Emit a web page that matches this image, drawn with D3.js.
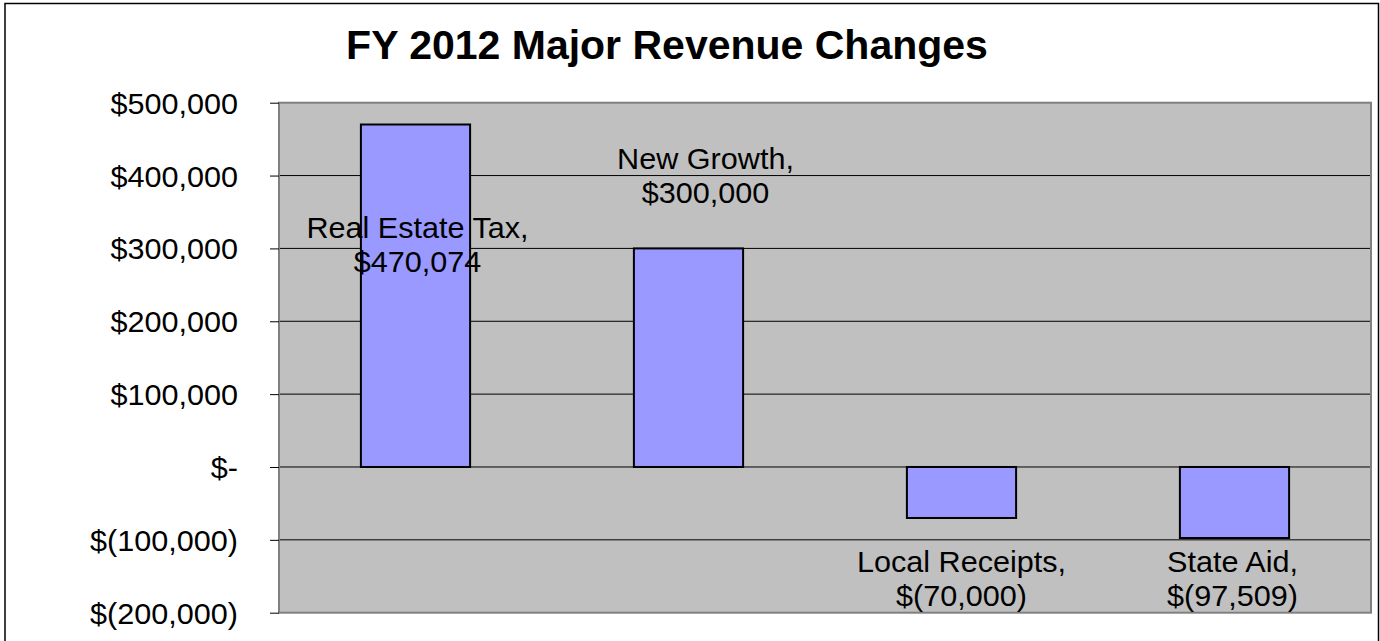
<!DOCTYPE html>
<html>
<head>
<meta charset="utf-8">
<script src="https://cdn.jsdelivr.net/npm/d3@7"></script>
<style>
  html, body { margin: 0; padding: 0; background: #fff; }
  svg { display: block; font-family: "Liberation Sans", Arial, sans-serif; }
</style>
</head>
<body>
<svg id="chart" width="1380" height="641"></svg>
<script>
// ---- data ----
const categories = ["Real Estate Tax", "New Growth", "Local Receipts", "State Aid"];
const values = [470074, 300000, -70000, -97509];
const tickValues = [500000, 400000, 300000, 200000, 100000, 0, -100000, -200000];
const titleText = "FY 2012 Major Revenue Changes";

// ---- layout (label placement relative to bar end, pixels) ----
const labelDx = [2, 17, 0, -2];
const labelDy = [113.5, -79, 54, 34];

const plot = { left: 279, right: 1371, top: 102.7, bottom: 612.7 };
const stretch = 1.02;

const svg = d3.select("#chart");

// outer frame
svg.append("rect")
  .attr("x", 5).attr("y", 3.5)
  .attr("width", 1373.5).attr("height", 700)
  .attr("fill", "#fff").attr("stroke", "#000").attr("stroke-width", 1.5);

// title
svg.append("text")
  .attr("transform", `translate(667,58.5) scale(1.025,1)`)
  .attr("text-anchor", "middle")
  .attr("font-size", 40).attr("font-weight", "bold")
  .attr("fill", "#000")
  .text(titleText);

const x = d3.scaleBand().domain(categories)
  .range([plot.left, plot.right])
  .paddingInner(0.6).paddingOuter(0.3);
const y = d3.scaleLinear().domain([-200000, 500000])
  .range([plot.bottom, plot.top]);

const fmt = v => {
  if (v === 0) return "$-";
  const s = d3.format(",")(Math.abs(v));
  return v < 0 ? `$(${s})` : `$${s}`;
};

// plot area background
svg.append("rect")
  .attr("x", plot.left).attr("y", plot.top)
  .attr("width", plot.right - plot.left).attr("height", plot.bottom - plot.top)
  .attr("fill", "#C0C0C0");

// gridlines
svg.append("g").selectAll("line")
  .data(tickValues.filter(t => t > -200000 && t < 500000))
  .join("line")
  .attr("x1", plot.left).attr("x2", plot.right)
  .attr("y1", d => y(d)).attr("y2", d => y(d))
  .attr("stroke", "#000").attr("stroke-width", 1);

// plot area border
svg.append("rect")
  .attr("x", plot.left).attr("y", plot.top)
  .attr("width", plot.right - plot.left).attr("height", plot.bottom - plot.top)
  .attr("fill", "none").attr("stroke", "#808080").attr("stroke-width", 2);

// y axis
const yAxis = d3.axisLeft(y).tickValues(tickValues).tickSize(9).tickFormat(fmt);
const gy = svg.append("g").attr("transform", `translate(${plot.left},0)`).call(yAxis);
gy.select(".domain").remove();
gy.selectAll(".tick line").attr("stroke", "#000").attr("stroke-width", 1);
gy.selectAll(".tick text")
  .attr("x", 0).attr("dy", null)
  .attr("transform", `translate(-41,10.5) scale(${stretch},1)`)
  .attr("font-size", 30)
  .attr("font-family", "\"Liberation Sans\", Arial, sans-serif")
  .attr("fill", "#000")
  .attr("text-anchor", "end");

// bars
const data = categories.map((c, i) => ({ c, v: values[i], i }));
svg.append("g").selectAll("rect")
  .data(data)
  .join("rect")
  .attr("x", d => x(d.c))
  .attr("width", x.bandwidth())
  .attr("y", d => y(Math.max(0, d.v)))
  .attr("height", d => Math.abs(y(d.v) - y(0)))
  .attr("fill", "#9999FF")
  .attr("stroke", "#000").attr("stroke-width", 2);

// data labels
const lg = svg.append("g");
data.forEach(d => {
  const cx = x(d.c) + x.bandwidth() / 2 + labelDx[d.i];
  const base = y(d.v) + labelDy[d.i];
  const lines = [d.c + ",", fmt(d.v)];
  lines.forEach((t, k) => {
    lg.append("text")
      .attr("transform", `translate(${cx},${base + k * 34}) scale(${stretch},1)`)
      .attr("text-anchor", "middle")
      .attr("font-size", 30)
      .attr("fill", "#000")
      .text(t);
  });
});
</script>
</body>
</html>
